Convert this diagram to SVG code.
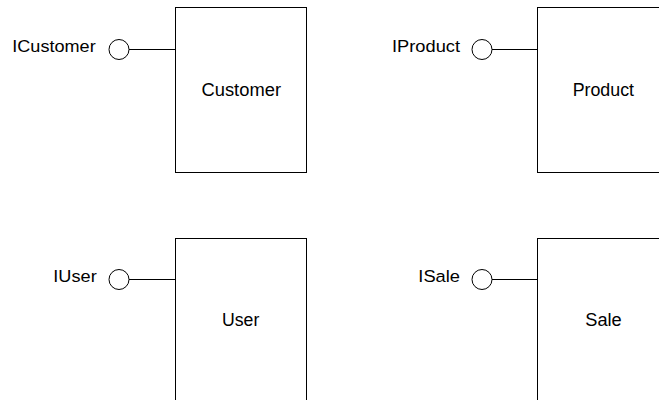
<svg xmlns="http://www.w3.org/2000/svg" width="659" height="400" viewBox="0 0 659 400">
<style>
.box{fill:#fff;stroke:#000;stroke-width:1}
.port{fill:#fff;stroke:#000;stroke-width:1}
.conn{stroke:#000;stroke-width:1;fill:none}
text{font-family:"Liberation Sans",Arial,sans-serif;fill:#000}
.lbl{font-size:16.3px}
.name{font-size:18.3px}
</style>
<rect width="659" height="400" fill="#fff"/>
<g id="connectors">
<line class="conn" x1="129" y1="49.5" x2="175.5" y2="49.5"/>
<line class="conn" x1="492" y1="49.5" x2="537.5" y2="49.5"/>
<line class="conn" x1="129" y1="279.5" x2="175.5" y2="279.5"/>
<line class="conn" x1="492" y1="279.5" x2="537.5" y2="279.5"/>
</g>
<g id="Customer">
<rect class="box" x="175.5" y="7.5" width="131" height="165"/>
<text class="name" x="201.5" y="95.7" textLength="79.5" lengthAdjust="spacingAndGlyphs">Customer</text>
</g>
<g id="ICustomer">
<circle class="port" cx="119" cy="49.5" r="10"/>
<text class="lbl" x="12.3" y="51.7" textLength="83.4" lengthAdjust="spacingAndGlyphs">ICustomer</text>
</g>
<g id="Product">
<rect class="box" x="537.5" y="7.5" width="131" height="165"/>
<text class="name" x="572.7" y="95.7" textLength="61.3" lengthAdjust="spacingAndGlyphs">Product</text>
</g>
<g id="IProduct">
<circle class="port" cx="482" cy="49.5" r="10"/>
<text class="lbl" x="392" y="51.7" textLength="68" lengthAdjust="spacingAndGlyphs">IProduct</text>
</g>
<g id="User">
<rect class="box" x="175.5" y="238.5" width="131" height="165"/>
<text class="name" x="222" y="326" textLength="37.3" lengthAdjust="spacingAndGlyphs">User</text>
</g>
<g id="IUser">
<circle class="port" cx="119" cy="279.5" r="10"/>
<text class="lbl" x="53.3" y="282.3" textLength="43.4" lengthAdjust="spacingAndGlyphs">IUser</text>
</g>
<g id="Sale">
<rect class="box" x="537.5" y="238.5" width="131" height="165"/>
<text class="name" x="585.3" y="326" textLength="36.4" lengthAdjust="spacingAndGlyphs">Sale</text>
</g>
<g id="ISale">
<circle class="port" cx="482" cy="279.5" r="10"/>
<text class="lbl" x="418.3" y="282.3" textLength="41.7" lengthAdjust="spacingAndGlyphs">ISale</text>
</g>
</svg>
